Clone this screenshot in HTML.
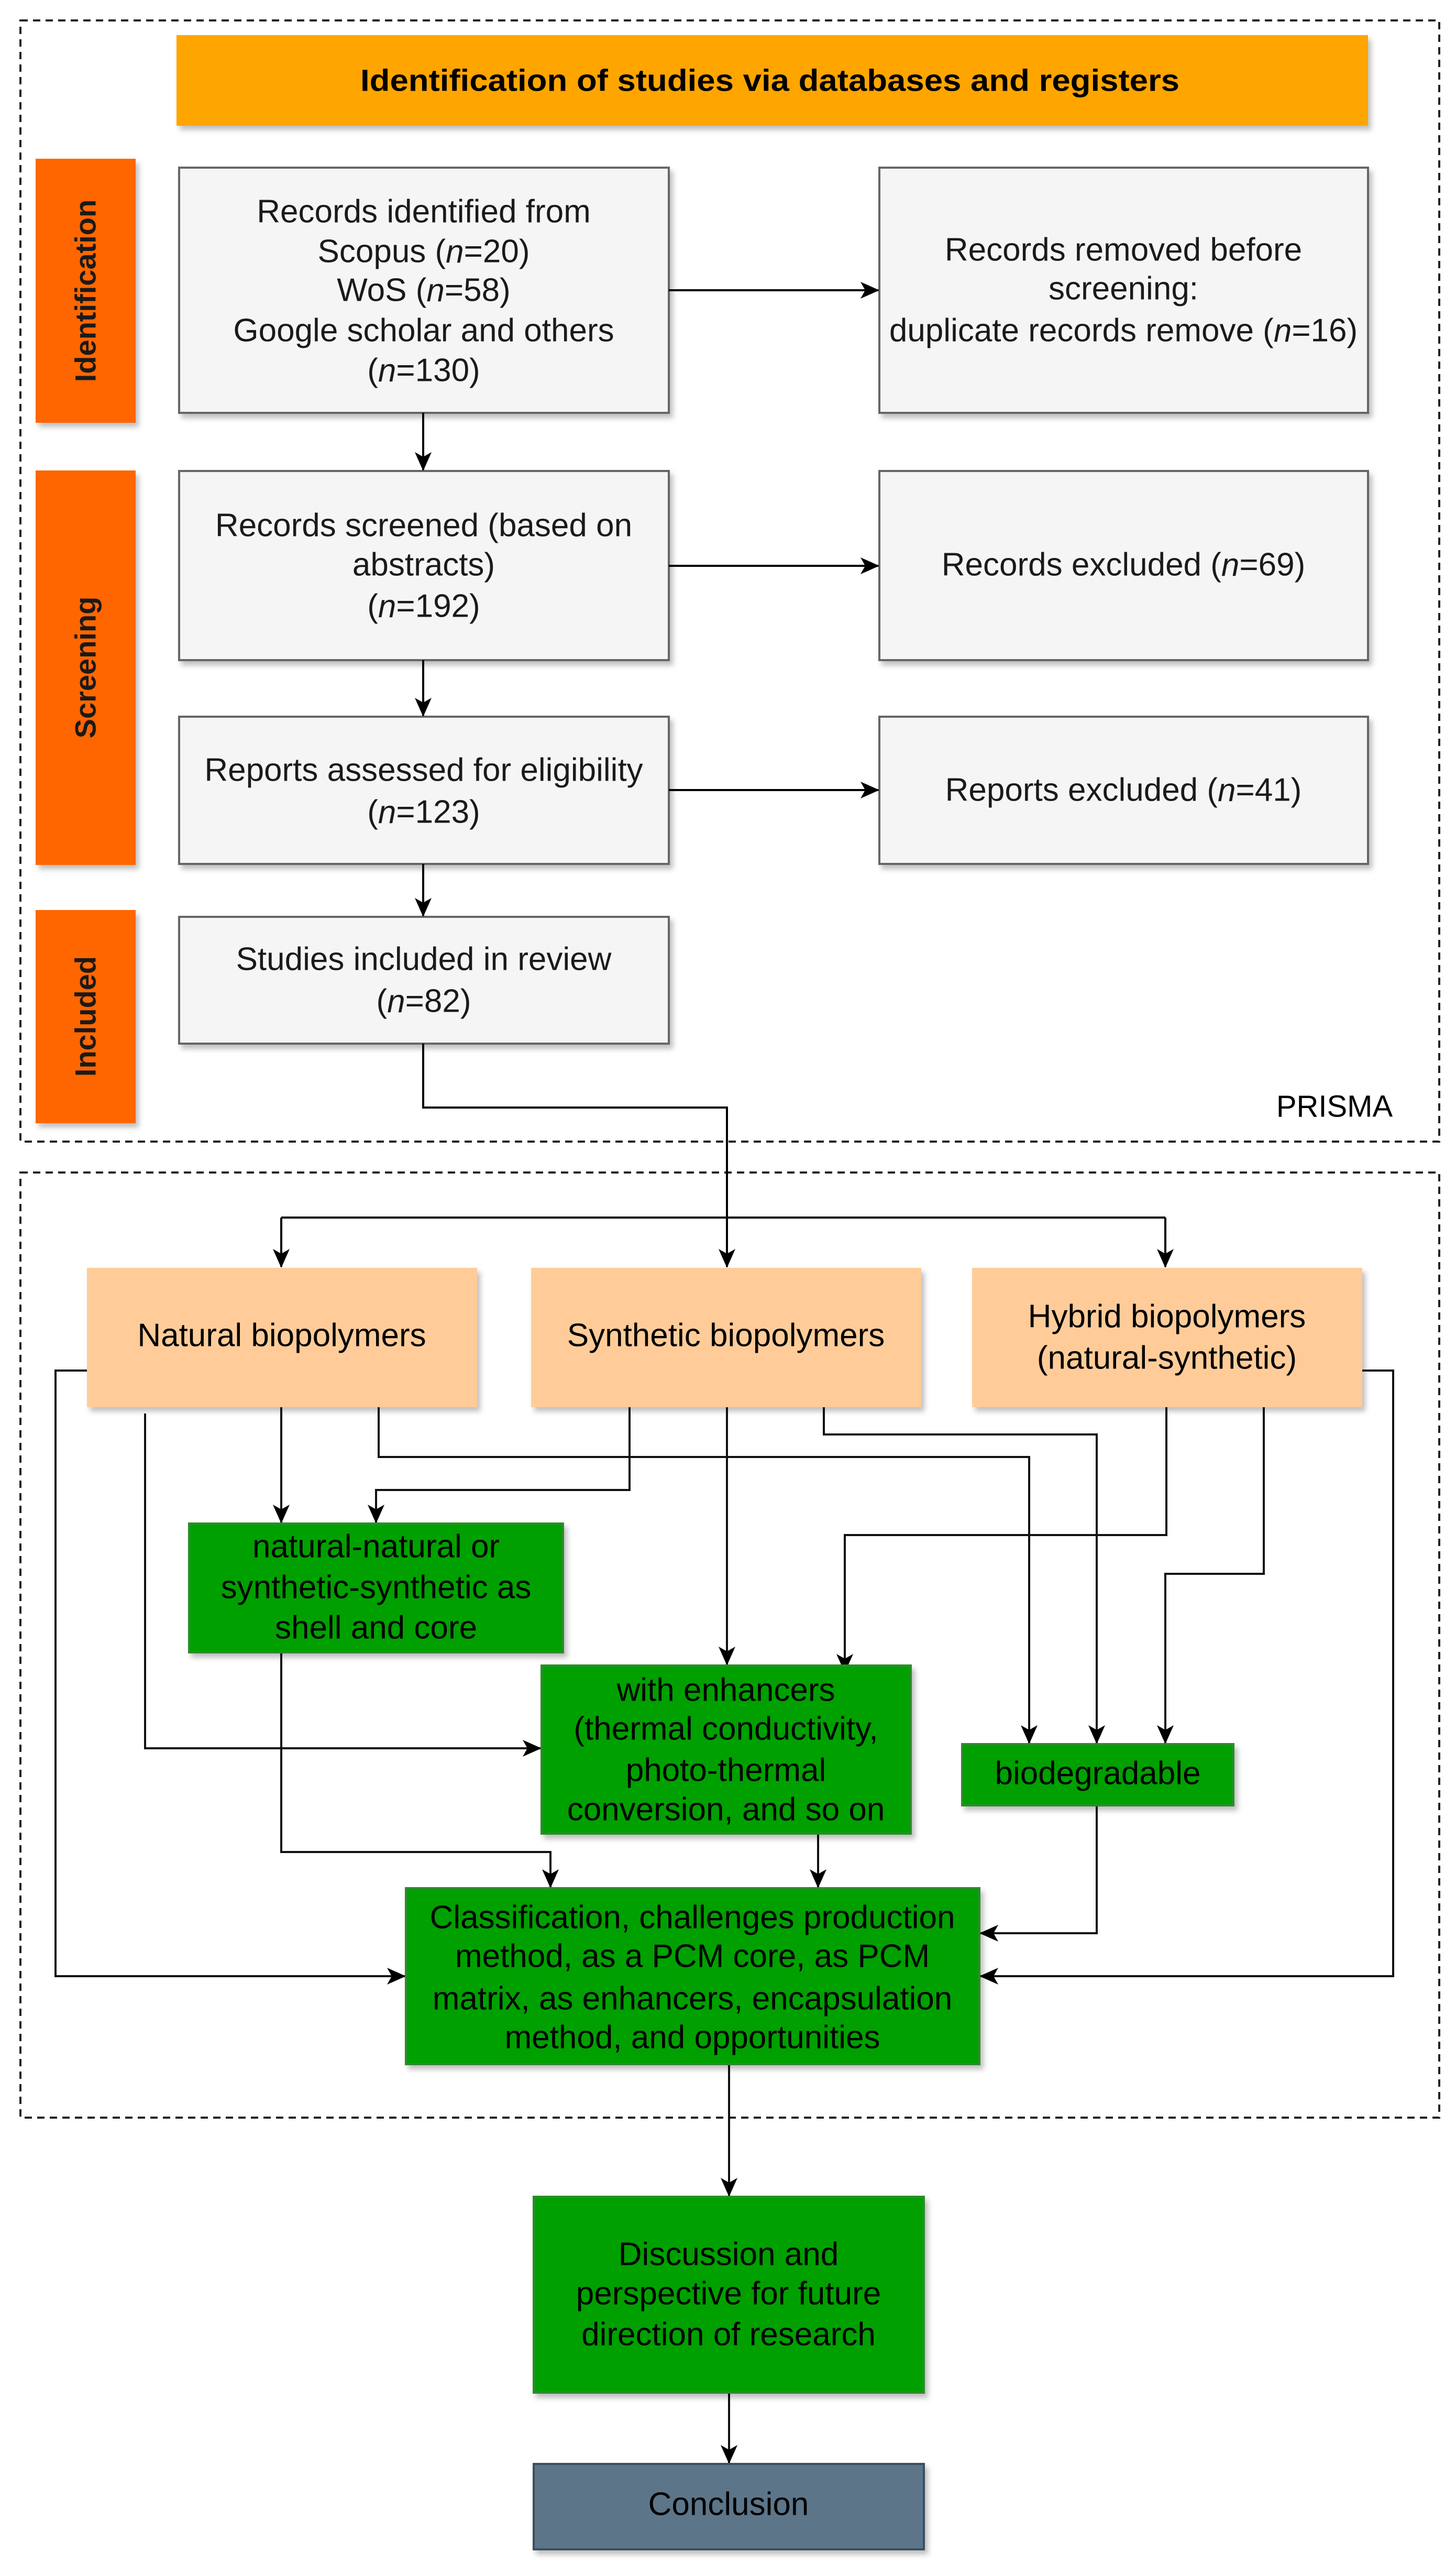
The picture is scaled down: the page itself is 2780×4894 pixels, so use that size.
<!DOCTYPE html>
<html><head><meta charset="utf-8"><style>
html,body{margin:0;padding:0;background:#fff}
svg{display:block}
text{font-family:"Liberation Sans",Arial,sans-serif;font-size:62px;fill:#1a1a1a}
.g text{fill:#000}
</style></head><body>
<svg width="2780" height="4894" viewBox="0 0 2780 4894" xmlns="http://www.w3.org/2000/svg">
<defs>
<marker id="a" markerUnits="userSpaceOnUse" markerWidth="40" markerHeight="40" refX="34" refY="18" orient="auto">
<path d="M0,2 L36,18 L0,34 L9,18 Z" fill="#000"/>
</marker>
<filter id="sh" x="-5%" y="-5%" width="115%" height="120%"><feDropShadow dx="6" dy="8" stdDeviation="5" flood-color="#000" flood-opacity="0.25"/></filter>
</defs>

<!-- dashed containers -->
<rect x="39" y="39" width="2709" height="2140" fill="none" stroke="#222" stroke-width="4" stroke-dasharray="14,10"/>
<rect x="39" y="2238" width="2709" height="1804" fill="none" stroke="#222" stroke-width="4" stroke-dasharray="14,10"/>

<!-- header -->
<rect x="337" y="67" width="2275" height="173" fill="#FFA500" filter="url(#sh)"/>
<text x="1470" y="154" text-anchor="middle" dominant-baseline="central" font-weight="bold" style="font-size:58px;fill:#000" textLength="1564" lengthAdjust="spacingAndGlyphs">Identification of studies via databases and registers</text>

<!-- side labels -->
<g filter="url(#sh)">
<rect x="68" y="303" width="191" height="504" fill="#FF6600"/>
<rect x="68" y="898" width="191" height="753" fill="#FF6600"/>
<rect x="68" y="1737" width="191" height="407" fill="#FF6600"/>
</g>
<g font-weight="bold" style="font-size:56px">
<text transform="translate(163,555) rotate(-90)" text-anchor="middle" dominant-baseline="central" style="font-size:56px;font-weight:bold">Identification</text>
<text transform="translate(163,1274) rotate(-90)" text-anchor="middle" dominant-baseline="central" style="font-size:56px;font-weight:bold">Screening</text>
<text transform="translate(163,1940) rotate(-90)" text-anchor="middle" dominant-baseline="central" style="font-size:56px;font-weight:bold">Included</text>
</g>

<!-- gray boxes -->
<g fill="#F5F5F5" stroke="#666" stroke-width="4" filter="url(#sh)">
<rect x="342" y="320" width="935" height="468"/>
<rect x="1679" y="320" width="933" height="468"/>
<rect x="342" y="899" width="935" height="361"/>
<rect x="1679" y="899" width="933" height="361"/>
<rect x="342" y="1368" width="935" height="281"/>
<rect x="1679" y="1368" width="933" height="281"/>
<rect x="342" y="1750" width="935" height="242"/>
</g>
<g text-anchor="middle" dominant-baseline="central">
<text x="809" y="404">Records identified from</text>
<text x="809" y="480">Scopus (<tspan font-style="italic">n</tspan>=20)</text>
<text x="809" y="554">WoS (<tspan font-style="italic">n</tspan>=58)</text>
<text x="809" y="631">Google scholar and others</text>
<text x="809" y="707">(<tspan font-style="italic">n</tspan>=130)</text>
<text x="2145" y="477">Records removed before</text>
<text x="2145" y="551">screening:</text>
<text x="2145" y="631">duplicate records remove (<tspan font-style="italic">n</tspan>=16)</text>
<text x="809" y="1003">Records screened (based on</text>
<text x="809" y="1078">abstracts)</text>
<text x="809" y="1157">(<tspan font-style="italic">n</tspan>=192)</text>
<text x="2145" y="1078">Records excluded (<tspan font-style="italic">n</tspan>=69)</text>
<text x="809" y="1470">Reports assessed for eligibility</text>
<text x="809" y="1550">(<tspan font-style="italic">n</tspan>=123)</text>
<text x="2145" y="1508">Reports excluded (<tspan font-style="italic">n</tspan>=41)</text>
<text x="809" y="1831">Studies included in review</text>
<text x="809" y="1911">(<tspan font-style="italic">n</tspan>=82)</text>
<text x="2548" y="2112" text-anchor="middle" style="font-size:58px;fill:#000">PRISMA</text>
</g>

<!-- PRISMA connectors -->
<g stroke="#000" stroke-width="4" fill="none">
<line x1="1277" y1="554" x2="1677" y2="554" marker-end="url(#a)"/>
<line x1="1277" y1="1080" x2="1677" y2="1080" marker-end="url(#a)"/>
<line x1="1277" y1="1508" x2="1677" y2="1508" marker-end="url(#a)"/>
<line x1="808" y1="788" x2="808" y2="897" marker-end="url(#a)"/>
<line x1="808" y1="1260" x2="808" y2="1366" marker-end="url(#a)"/>
<line x1="808" y1="1649" x2="808" y2="1748" marker-end="url(#a)"/>
<polyline points="808,1992 808,2114 1388,2114 1388,2324"/>
<polyline points="537,2324 2225,2324"/>
<line x1="537" y1="2324" x2="537" y2="2418" marker-end="url(#a)"/>
<line x1="1388" y1="2324" x2="1388" y2="2418" marker-end="url(#a)"/>
<line x1="2225" y1="2324" x2="2225" y2="2418" marker-end="url(#a)"/>
</g>

<!-- orange boxes -->
<g fill="#FFCC99" filter="url(#sh)">
<rect x="166" y="2420" width="745" height="266"/>
<rect x="1014" y="2420" width="745" height="266"/>
<rect x="1856" y="2420" width="745" height="266"/>
</g>
<g text-anchor="middle" dominant-baseline="central" class="g">
<text x="538" y="2549">Natural biopolymers</text>
<text x="1386" y="2549">Synthetic biopolymers</text>
<text x="2228" y="2513">Hybrid biopolymers</text>
<text x="2228" y="2592">(natural-synthetic)</text>
</g>

<!-- connectors lower -->
<g stroke="#111" stroke-width="4" fill="none">
<polyline points="166,2616 106,2616 106,3772 773,3772" marker-end="url(#a)"/>
<polyline points="2601,2616 2660,2616 2660,3772 1872,3772" marker-end="url(#a)"/>
<polyline points="277,2698 277,3337 1032,3337" marker-end="url(#a)"/>
<polyline points="537,2686 537,2906" marker-end="url(#a)"/>
<polyline points="723,2686 723,2781 1965,2781 1965,3327" marker-end="url(#a)"/>
<polyline points="1202,2686 1202,2844 718,2844 718,2906" marker-end="url(#a)"/>
<polyline points="1388,2686 1388,3177" marker-end="url(#a)"/>
<polyline points="1573,2686 1573,2738 2094,2738 2094,3327" marker-end="url(#a)"/>
<polyline points="2227,2686 2227,2930 1613,2930 1613,3191" marker-end="url(#a)"/>
<polyline points="2413,2686 2413,3004 2225,3004 2225,3327" marker-end="url(#a)"/>
<polyline points="537,3155 537,3535 1051,3535 1051,3602" marker-end="url(#a)"/>
<polyline points="1562,3500 1562,3602" marker-end="url(#a)"/>
<polyline points="2094,3446 2094,3690 1872,3690" marker-end="url(#a)"/>
<polyline points="1392,3940 1392,4191" marker-end="url(#a)"/>
<polyline points="1392,4567 1392,4701" marker-end="url(#a)"/>
</g>

<!-- green boxes -->
<g fill="#00A000" stroke="#2E8B2E" stroke-width="4" filter="url(#sh)">
<rect x="361" y="2908" width="714" height="246"/>
<rect x="1034" y="3179" width="705" height="321"/>
<rect x="1837" y="3329" width="518" height="117"/>
<rect x="775" y="3604" width="1095" height="336"/>
<rect x="1019" y="4193" width="745" height="374"/>
</g>
<rect x="1019" y="4703" width="745" height="163" fill="#5B7489" stroke="#3a4f60" stroke-width="4" filter="url(#sh)"/>
<g text-anchor="middle" dominant-baseline="central" class="g">
<text x="718" y="2952">natural-natural or</text>
<text x="718" y="3030">synthetic-synthetic as</text>
<text x="718" y="3107">shell and core</text>
<text x="1386" y="3226">with enhancers</text>
<text x="1386" y="3300">(thermal conductivity,</text>
<text x="1386" y="3379">photo-thermal</text>
<text x="1386" y="3454">conversion, and so on</text>
<text x="2096" y="3385">biodegradable</text>
<text x="1322" y="3660">Classification, challenges production</text>
<text x="1322" y="3734">method, as a PCM core, as PCM</text>
<text x="1322" y="3815">matrix, as enhancers, encapsulation</text>
<text x="1322" y="3889">method, and opportunities</text>
<text x="1391" y="4303">Discussion and</text>
<text x="1391" y="4378">perspective for future</text>
<text x="1391" y="4456">direction of research</text>
<text x="1391" y="4780">Conclusion</text>
</g>
</svg>
</body></html>
